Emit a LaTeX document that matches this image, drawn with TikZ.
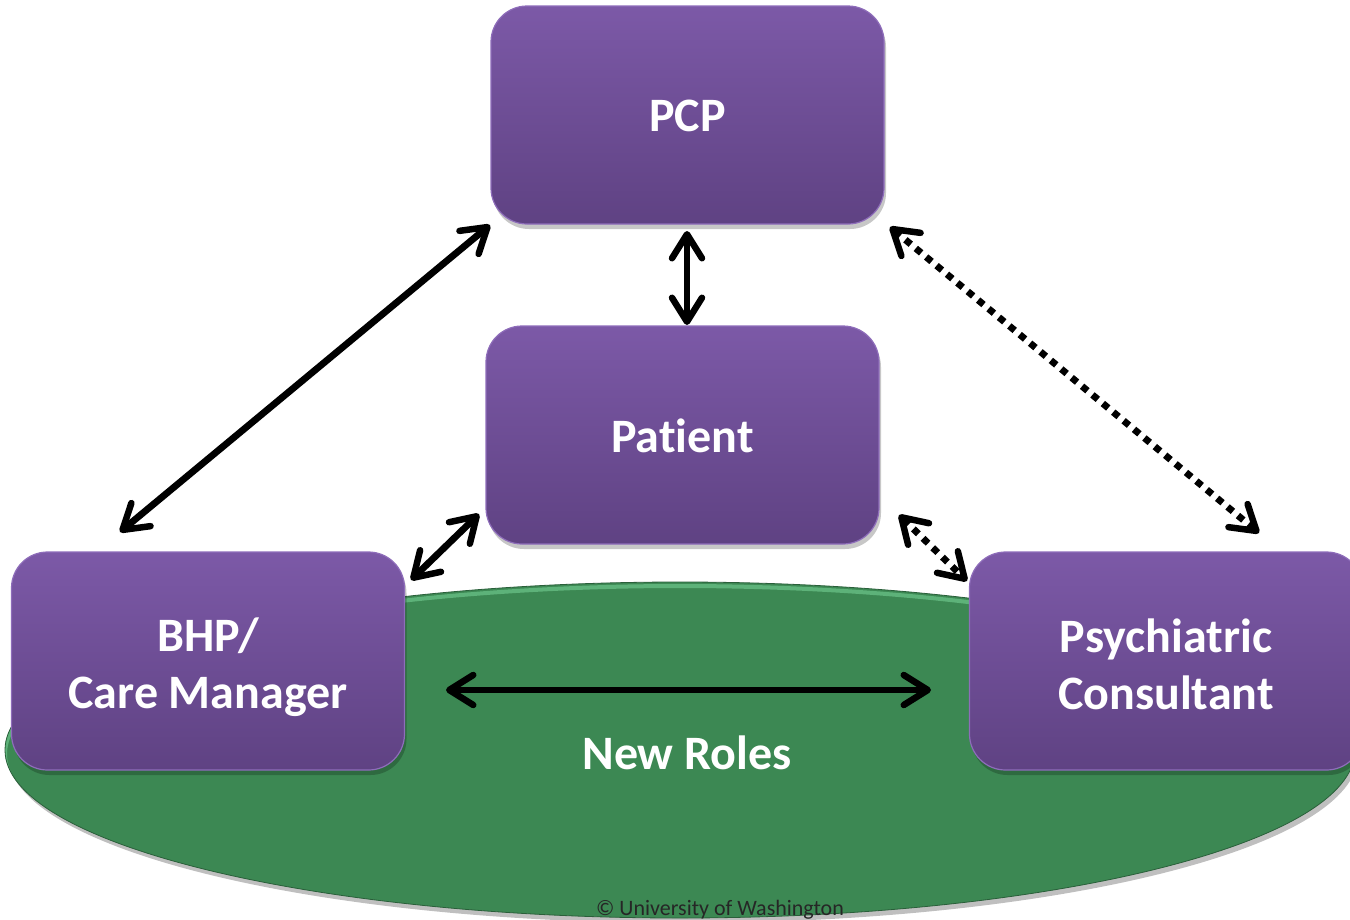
\documentclass[tikz,border=0pt]{standalone}
\usepackage{fontspec}
\setmainfont{Carlito}[Ligatures={NoCommon}]
\usetikzlibrary{arrows.meta,shadows}
\definecolor{boxtop}{HTML}{7C59A7}
\definecolor{boxbot}{HTML}{5F4283}
\definecolor{boxedge}{HTML}{8E6DBA}
\definecolor{grn}{HTML}{3C8853}
\definecolor{grnrim}{HTML}{6CC48A}
\tikzset{
  rolebox/.style={rectangle, rounded corners=36pt, minimum width=393pt, minimum height=218pt,
    top color=boxtop, bottom color=boxbot, draw=boxedge, line width=1.2pt,
    drop shadow={shadow xshift=2pt, shadow yshift=-5pt, opacity=0.22, fill=black}},
  boxtext/.style={text=white, font=\fontsize{48}{57}\selectfont\bfseries, align=center},
  tip/.style={Straight Barb[length=24pt,width=30pt,line width=6.5pt,round]},
  link/.style={line width=6.8pt, {Straight Barb[length=24pt,width=30pt,line width=6.5pt,round]}-{Straight Barb[length=24pt,width=30pt,line width=6.5pt,round]}},
  dotlink/.style={link, dash pattern=on 7pt off 6.5pt},
  lbl/.style={text=white, font=\fontsize{48}{57}\selectfont\bfseries},
}
\begin{document}
\begin{tikzpicture}[x=1pt,y=-1pt]
\useasboundingbox (0,0) rectangle (1350,919);
\clip (0,0) rectangle (1350,919);
\fill[white] (0,0) rectangle (1350,919);
% green ellipse
\fill[black, opacity=0.25] (683,755) ellipse [x radius=675pt, y radius=168pt];
\fill[grn] (680,750) ellipse [x radius=675pt, y radius=168pt];
\begin{scope}
\clip (680,750) ellipse [x radius=675pt, y radius=168pt];
\draw[grnrim, line width=4pt, opacity=0.7] (680,754) ellipse [x radius=675pt, y radius=168pt];
\end{scope}
\draw[grn!70!black, line width=0.8pt] (680,750) ellipse [x radius=675pt, y radius=168pt];
\node[lbl] (roles) at (687,753) {New Roles};
\node[font=\fontsize{22}{26}\selectfont, text=black!85] (copy) at (720,910) {\textcopyright{} University of Washington};
% boxes
\node[rolebox] (pcp) at (687.5,115) {};
\node[rolebox] (pat) at (682.5,435) {};
\node[rolebox] (bhp) at (208,661) {};
\node[rolebox] (psy) at (1166,661) {};
\node[boxtext] (pcpt) at (687.5,116) {PCP};
\node[boxtext] (patt) at (682.5,436) {Patient};
\node[boxtext] (bhpt) at (208,667) {BHP/\\Care Manager};
\node[boxtext] (psyt) at (1166,664) {Psychiatric\\Consultant};
% connector end points
\coordinate (a1) at (120,532);
\coordinate (a2) at (490,225);
\coordinate (b1) at (687,231);
\coordinate (b2) at (687,325);
\coordinate (c1) at (890,227);
\coordinate (c2) at (1259,533);
\coordinate (d1) at (411,580);
\coordinate (d2) at (479,514);
\coordinate (e1) at (899,515);
\coordinate (e2) at (967,581);
\coordinate (f1) at (446,690);
\coordinate (f2) at (931,690);
\draw[link] (a1) -- (a2);
\draw[link] (b1) -- (b2);
\draw[dotlink] (c1) -- (c2);
\draw[link] (d1) -- (d2);
\draw[dotlink] (e1) -- (e2);
\draw[link] (f1) -- (f2);
\end{tikzpicture}
\end{document}
